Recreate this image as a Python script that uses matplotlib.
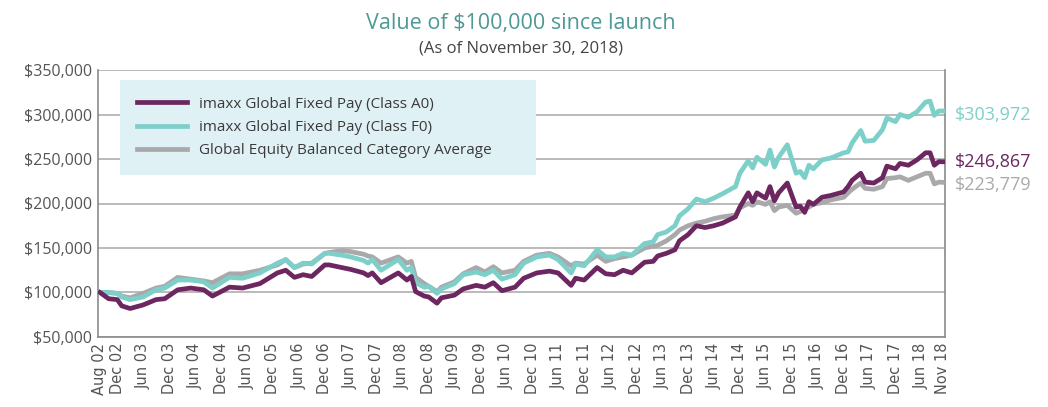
import matplotlib.pyplot as plt
import pandas as pd

# month offsets since launch (Aug 2002) at which values were read
months = [0, 2, 4, 5, 7, 10, 13, 15, 18, 21, 24, 26, 30, 33, 37, 41, 43, 45, 47, 49,
          52, 53, 56, 58, 61, 62, 63, 65, 69, 71, 72, 73, 75, 76, 78, 79, 82, 84, 87, 89,
          91, 93, 96, 98, 101, 104, 106, 109, 110, 112, 115, 117, 119, 121, 123, 126, 128, 129, 131, 133,
          134, 136, 138, 140, 142, 144, 147, 148, 150, 151, 152, 154, 155, 156, 157, 159, 161, 162, 163, 164,
          165, 167, 169, 172, 173, 174, 176, 177, 179, 181, 182, 184, 185, 187, 189, 191, 192, 193, 194, 195]

class_a0 = [100, 93, 92, 85, 82, 86, 92, 93, 103, 105, 103, 96, 106, 105, 110, 122, 125, 117, 120, 118,
            131, 131, 128, 126, 122, 119, 122, 111, 122, 114, 118, 101, 96, 95, 88, 94, 97, 104, 108, 106,
            111, 102, 106, 116, 122, 124, 122, 108, 116, 114, 128, 121, 120, 125, 122, 134, 135, 141, 144, 148,
            158, 165, 175, 173, 175, 178, 185, 196, 212, 202, 212, 206, 219, 203, 212, 223, 196, 197, 190, 202,
            199, 207, 209, 213, 219, 226, 234, 224, 223, 229, 242, 239, 245, 243, 249, 257, 257, 243, 247, 246.867]

class_f0 = [100, 100, 99, 95, 92, 95, 103, 105, 114, 114, 112, 105, 117, 116, 122, 133, 137, 128, 133, 132,
            144, 144, 142, 140, 136, 133, 137, 125, 137, 125, 128, 111, 106, 107, 99, 104, 110, 120, 123, 120,
            125, 115, 120, 133, 140, 142, 137, 122, 132, 130, 148, 140, 140, 144, 142, 155, 157, 165, 168, 175,
            186, 194, 205, 202, 206, 211, 219, 234, 248, 240, 252, 244, 260, 241, 252, 266, 234, 236, 229, 243,
            239, 249, 251, 257, 258, 268, 282, 270, 271, 283, 296, 292, 300, 297, 303, 314, 315, 299, 304, 303.972]

category = [100, 100, 99, 96, 94, 99, 105, 107, 117, 115, 113, 111, 121, 121, 125, 131, 137, 128, 132, 133,
            144, 145, 147, 146, 143, 141, 140, 133, 140, 133, 135, 117, 110, 107, 101, 106, 112, 121, 128, 123,
            129, 122, 125, 135, 142, 144, 140, 130, 133, 132, 142, 135, 138, 140, 142, 150, 152, 153, 158, 165,
            170, 175, 178, 180, 183, 185, 187, 195, 200, 198, 202, 199, 202, 192, 196, 198, 189, 191, 194, 196,
            199, 201, 204, 207, 212, 216, 223, 217, 216, 219, 228, 229, 230, 226, 230, 234, 234, 222, 224, 223.779]

labels = ['imaxx Global Fixed Pay (Class A0)', 'imaxx Global Fixed Pay (Class F0)',
          'Global Equity Balanced Category Average']
end_labels = ['$246,867', '$303,972', '$223,779']
tick_months = [0, 4] + list(range(10, 191, 6)) + [195]

PURPLE = '#6c2760'
TEAL = '#7dcfc9'
GRAY = '#a9a9ac'
TEXT = '#555555'

launch = pd.Timestamp('2002-08-31')


def to_dates(offsets):
    return [launch + pd.offsets.MonthEnd(m) for m in offsets]


def main():
    plt.rcParams['font.family'] = ['Open Sans', 'DejaVu Sans']
    fig = plt.figure(figsize=(10.48, 4.07), dpi=100)
    ax = fig.add_axes([0.0935, 0.172, 0.8082, 0.656])

    dates = to_dates(months)
    ax.plot(dates, [v * 1000 for v in category], color=GRAY, lw=3.4, label=labels[2], zorder=3)
    ax.plot(dates, [v * 1000 for v in class_f0], color=TEAL, lw=3.4, label=labels[1], zorder=4)
    ax.plot(dates, [v * 1000 for v in class_a0], color=PURPLE, lw=3.4, label=labels[0], zorder=5)

    ax.set_ylim(50000, 350000)
    ax.set_yticks(range(50000, 350001, 50000))
    ax.set_yticklabels(['${:,}'.format(v) for v in range(50000, 350001, 50000)],
                       fontsize=11.5, color=TEXT)
    ax.grid(axis='y', color='#b4b4b4', lw=1.3, zorder=1)

    tick_dates = to_dates(tick_months)
    ax.set_xlim(launch - pd.Timedelta(days=14), tick_dates[-1] + pd.Timedelta(days=14))
    ax.set_xticks(tick_dates)
    ax.set_xticklabels([d.strftime('%b %y') for d in tick_dates], rotation=90,
                       fontsize=10.5, color=TEXT, family='DejaVu Sans')
    ax.tick_params(length=0, pad=4)

    ax.spines['top'].set_visible(False)
    for side in ['left', 'bottom', 'right']:
        ax.spines[side].set_color('#8a8a8a')
        ax.spines[side].set_linewidth(1.2)

    h, l = ax.get_legend_handles_labels()
    order = [2, 1, 0]
    leg = ax.legend([h[i] for i in order], [l[i] for i in order],
                    loc='upper left', bbox_to_anchor=(0.026, 0.963, 0.491, 0.0),
                    mode='expand', fontsize=11, handlelength=3.3, handletextpad=0.8,
                    labelspacing=0.55, borderpad=1.1, frameon=True, fancybox=False,
                    borderaxespad=0, labelcolor='#3a3a3a')
    leg.get_frame().set_facecolor('#e0f1f6')
    leg.get_frame().set_edgecolor('none')
    leg.get_frame().set_alpha(1)
    leg.set_zorder(6)

    end_y = [class_a0[-1] * 1000, class_f0[-1] * 1000, category[-1] * 1000]
    colors = [PURPLE, TEAL, GRAY]
    offsets = [0, -3, -2]
    for text, y, c, dy in zip(end_labels, end_y, colors, offsets):
        ax.annotate(text, xy=(1, y), xycoords=('axes fraction', 'data'),
                    xytext=(7, dy), textcoords='offset points', va='center',
                    fontsize=13, color=c, annotation_clip=False)

    fig.text(0.497, 0.943, 'Value of $100,000 since launch', ha='center', va='center',
             fontsize=15.5, color='#4d9995')
    fig.text(0.497, 0.882, '(As of November 30, 2018)', ha='center', va='center',
             fontsize=12, color='#444444')

    fig.savefig('out.png', dpi=100)


if __name__ == '__main__':
    main()
